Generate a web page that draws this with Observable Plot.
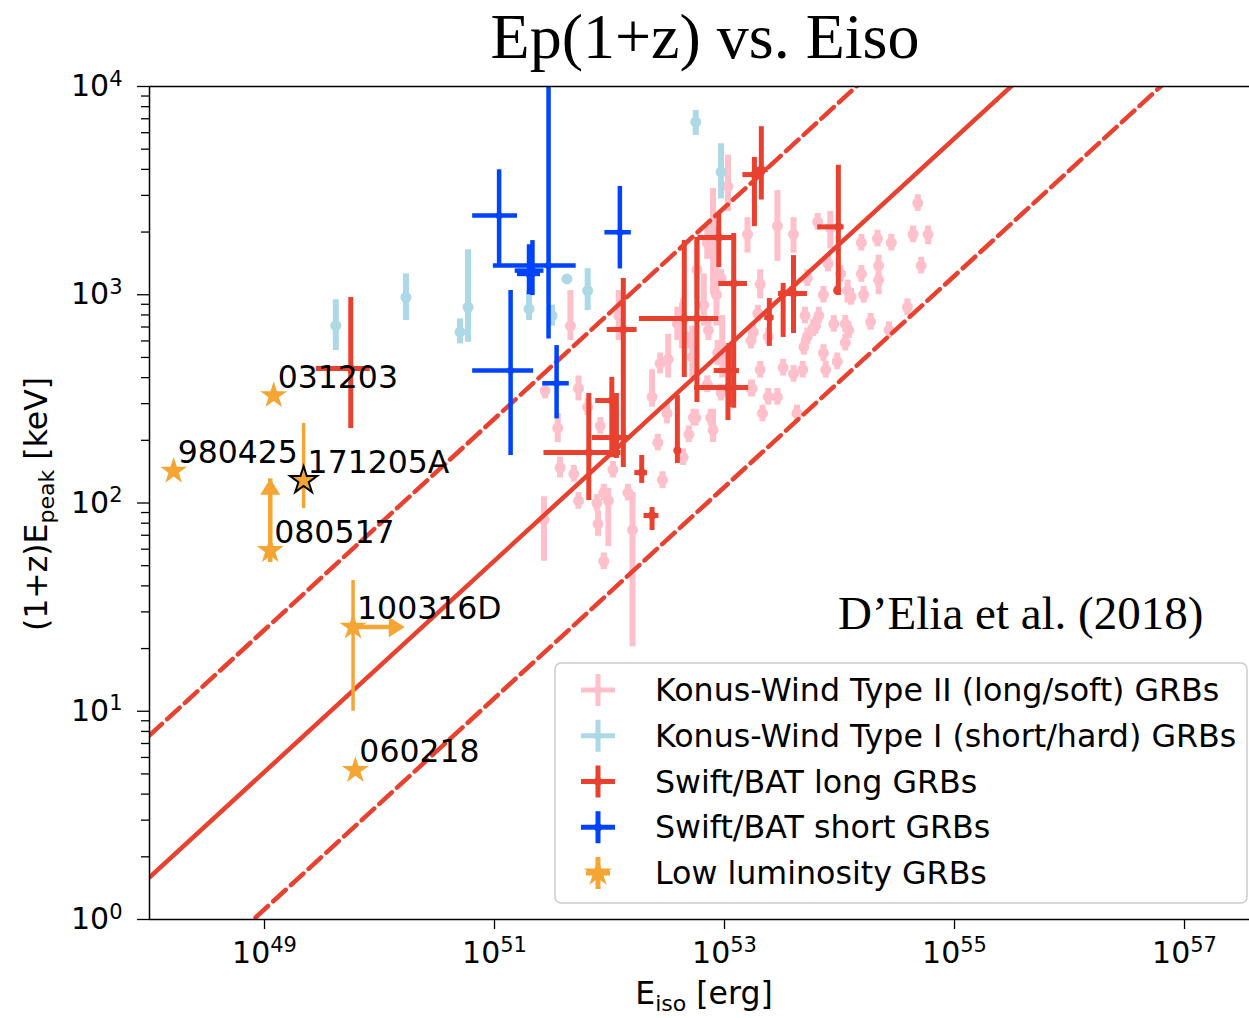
<!DOCTYPE html>
<html>
<head>
<meta charset="utf-8">
<script src="https://cdn.jsdelivr.net/npm/d3@7"></script>
<script src="https://cdn.jsdelivr.net/npm/@observablehq/plot@0.6"></script>
<style>
  body { margin: 0; background: #fff; }
  #chart svg { display: block; }
</style>
</head>
<body>
<div id="chart"></div>
<script>
// ---- Konus-Wind Type II (long/soft): [log10 Eiso, log10 Ep(1+z), log10 Ep low, log10 Ep high]
const kwLong = [
  [51.66,2.85,2.78,3.02],[51.73,2.55,2.49,2.61],[51.55,2.36,2.29,2.43],[51.57,2.17,2.12,2.22],
  [51.43,1.92,1.72,2.03],[51.69,2.14,2.10,2.18],[51.90,1.90,1.84,1.96],[51.95,2.05,2.01,2.09],
  [51.99,2.01,1.79,2.07],[52.03,2.16,2.12,2.20],[51.81,2.46,2.42,2.50],[51.92,2.37,2.33,2.41],
  [52.20,1.87,1.31,2.05],[52.42,2.29,2.25,2.33],[52.46,2.11,2.07,2.15],[52.69,2.33,2.29,2.37],
  [52.75,2.41,2.37,2.45],[52.64,2.22,2.18,2.26],[52.37,2.51,2.46,2.64],[52.51,2.69,2.60,2.81],
  [52.90,2.35,2.29,2.45],[52.97,2.53,2.49,2.57],[53.24,2.55,2.51,2.59],[53.38,2.51,2.47,2.55],
  [53.33,2.43,2.39,2.47],[53.51,2.65,2.61,2.69],[53.60,2.62,2.58,2.66],[53.63,2.43,2.39,2.47],
  [53.86,2.72,2.68,2.76],[53.88,2.64,2.60,2.68],[53.98,2.68,2.64,2.72],[53.70,2.90,2.86,2.94],
  [53.79,2.85,2.81,2.89],[54.27,2.87,2.83,2.91],[54.43,2.83,2.79,2.87],[52.88,2.41,2.37,2.45],
  [52.85,2.57,2.53,2.61],[52.50,2.43,2.38,2.48],[51.73,2.01,1.97,2.05],[52.16,2.05,2.01,2.09],
  [52.08,2.90,2.78,3.02],[52.59,2.86,2.78,2.94],[52.90,3.31,3.00,3.51],[53.03,3.52,3.40,3.67],
  [53.20,3.29,3.20,3.37],[53.46,3.33,3.16,3.50],[53.60,3.29,3.20,3.37],[53.81,3.35,3.31,3.39],
  [53.92,3.32,3.22,3.40],[54.19,3.25,3.21,3.29],[54.33,3.27,3.23,3.31],[54.45,3.25,3.21,3.29],
  [54.64,3.29,3.25,3.33],[54.77,3.29,3.24,3.33],[54.68,3.44,3.40,3.48],[54.71,3.14,3.10,3.18],
  [54.19,3.10,3.06,3.14],[54.34,3.14,3.00,3.19],[54.34,3.07,3.04,3.10],[54.59,2.94,2.90,2.98],
  [54.07,3.02,2.96,3.07],[54.05,2.86,2.82,2.90],[54.05,2.77,2.73,2.81],[53.95,2.86,2.82,2.90],
  [53.82,2.90,2.86,2.94],[53.72,3.08,3.04,3.12],[53.68,2.64,2.60,2.68],[53.90,3.15,3.11,3.19],
  [54.10,2.99,2.95,3.03],[54.08,2.83,2.79,2.87],[53.31,3.05,2.98,3.12],[53.29,2.91,2.87,2.95],
  [53.38,2.80,2.76,2.84],[53.23,2.78,2.74,2.82],[53.23,2.55,2.51,2.59],[52.73,2.41,2.37,2.45],
  [53.77,2.84,2.80,2.88],[53.86,3.00,2.96,3.04],[52.64,2.88,2.78,2.98],[52.76,3.12,2.98,3.26],
  [52.85,3.25,3.17,3.33],[52.97,3.08,3.04,3.12],[54.01,3.10,3.06,3.14],[51.44,2.54,2.50,2.58],
  [51.95,1.72,1.68,1.76],[52.63,2.82,2.74,2.96],[52.44,2.67,2.62,2.72],[52.86,2.83,2.78,2.88],
  [53.31,2.64,2.60,2.68],[53.72,2.80,2.76,2.84],[53.46,2.51,2.47,2.55],[54.21,3.00,2.96,3.04],
  [51.89,2.00,1.96,2.04],[52.70,2.78,2.74,2.82],[53.25,2.82,2.78,2.86],[52.94,2.72,2.66,2.78],
  [53.69,2.75,2.71,2.79],[52.93,3.00,2.85,3.15],[52.98,2.75,2.60,2.90],[52.82,2.95,2.85,3.10],
  [52.72,2.70,2.60,2.85]
];

// ---- Konus-Wind Type I (short/hard): [log10 Eiso, log10 Ep, log10 Ep low, log10 Ep high]
const kwShort = [
  [49.62,2.852,2.732,2.976],[50.23,2.988,2.876,3.100],[50.70,2.820,2.764,2.884],
  [50.77,2.940,2.772,3.216],[51.30,2.932,2.876,3.020],[51.50,2.900,2.850,2.950],
  [51.63,3.076,3.060,3.090],[51.81,3.020,2.924,3.125],[52.75,3.829,3.765,3.885],
  [52.97,3.589,3.460,3.725]
];

// ---- Swift/BAT long: [log10 Eiso, low, high, log10 Ep, low, high]
const batLong = [
  [49.75,49.45,49.92,2.646,2.358,2.987],[51.82,51.43,52.10,2.242,2.012,2.526],
  [52.02,51.88,52.07,2.492,2.218,2.603],[52.06,51.85,52.18,2.315,2.214,2.526],
  [52.12,51.98,52.24,2.833,2.170,3.078],[52.28,52.22,52.33,2.146,2.094,2.228],
  [52.37,52.30,52.43,1.940,1.868,1.978],[52.59,52.58,52.60,2.252,2.190,2.516],
  [52.65,52.26,52.95,2.886,2.603,3.261],[52.76,52.38,52.85,2.886,2.483,3.275],
  [52.95,52.77,53.10,3.275,3.131,3.390],[53.08,52.95,53.20,3.054,2.455,3.294],
  [53.04,52.91,53.13,2.636,2.459,2.766],[53.03,52.74,53.21,2.555,2.396,2.732],
  [53.26,53.16,53.32,3.577,3.327,3.659],[53.32,53.25,53.38,3.601,3.455,3.807],
  [53.39,53.35,53.43,2.891,2.752,2.982],[53.51,53.47,53.72,3.006,2.795,3.054],
  [53.60,53.49,53.72,3.006,2.814,3.188],[53.99,53.81,54.04,3.326,2.996,3.622],
  [53.98,53.97,53.99,3.020,3.000,3.040]
];

// ---- Swift/BAT short: [log10 Eiso, low, high, log10 Ep, low, high]
const batShort = [
  [51.04,50.81,51.20,3.381,3.140,3.600],[51.47,50.99,51.71,3.140,2.788,4.300],
  [51.33,51.18,51.43,3.116,2.996,3.260],[51.30,51.20,51.40,3.100,3.000,3.240],
  [52.09,51.96,52.19,3.300,3.124,3.520],[51.14,50.81,51.34,2.636,2.228,3.020],
  [51.54,51.42,51.65,2.575,2.404,2.756]
];

// ---- Low-luminosity GRBs
const llNames   = ["980425", "031203", "171205A", "080517", "100316D", "060218"];
const llLogE    = [48.21, 49.08, 49.34, 49.05, 49.77, 49.79];
const llLogEp   = [2.153, 2.516, 2.108, 1.772, 1.404, 0.716];
const llLogEpLo = [null, null, 1.973, null, 1.000, null];
const llLogEpHi = [null, null, 2.382, null, 1.628, null];
const llOutlined = [false, false, true, false, false, false];
// limits: 080517 has a lower limit on Ep, 100316D a lower limit on Eiso
const llUpLimitTo    = [null, null, null, 2.116, null, null];
const llRightLimitTo = [null, null, null, null, 50.22, null];

// ---- Amati relation: log Ep = norm + slope * (log Eiso - 48)
const amatiSlope = 0.507;
const amatiNorm  = [0.884, 0.202, -0.458];
const amatiDash  = [true, false, true];

// ---- legend and tick labels
const legendLabels = [
  "Konus-Wind Type II (long/soft) GRBs",
  "Konus-Wind Type I (short/hard) GRBs",
  "Swift/BAT long GRBs",
  "Swift/BAT short GRBs",
  "Low luminosity GRBs"
];
const xTicks = [1e49, 1e51, 1e53, 1e55, 1e57];
const yTicks = [1, 10, 100, 1e3, 1e4];

const C = {pink: "#ffc0cb", lightblue: "#add8e6", red: "#e8412f", blue: "#0043ff", orange: "#f5a533"};
const legendColors = [C.pink, C.lightblue, C.red, C.blue, C.orange];

const p10 = v => Math.pow(10, v);
const yMinor = [];
for (let d = 0; d < 4; d++) for (let k = 2; k <= 9; k++) yMinor.push(k * p10(d));

const kwLongRows  = kwLong.map(d => ({E: p10(d[0]), Ep: p10(d[1]), lo: p10(d[2]), hi: p10(d[3])}));
const kwShortRows = kwShort.map(d => ({E: p10(d[0]), Ep: p10(d[1]), lo: p10(d[2]), hi: p10(d[3])}));
const toBat = d => ({E: p10(d[0]), Elo: p10(d[1]), Ehi: p10(d[2]), Ep: p10(d[3]), lo: p10(d[4]), hi: p10(d[5])});
const batLongRows  = batLong.map(toBat);
const batShortRows = batShort.map(toBat);
const llRows = llNames.map((name, i) => ({
  name, E: p10(llLogE[i]), Ep: p10(llLogEp[i]),
  lo: llLogEpLo[i] == null ? null : p10(llLogEpLo[i]),
  hi: llLogEpHi[i] == null ? null : p10(llLogEpHi[i]),
  outlined: llOutlined[i],
  upTo: llUpLimitTo[i] == null ? null : p10(llUpLimitTo[i]),
  rightTo: llRightLimitTo[i] == null ? null : p10(llRightLimitTo[i])
}));
const xMax = p10(57.565);
const amatiRows = amatiNorm.flatMap((n, i) => [48, 57.565].map(lx => ({
  line: i, dash: amatiDash[i], E: p10(lx), Ep: p10(n + amatiSlope * (lx - 48))
})));

// filled arrow head with its tip at the anchor point, pointing up
const arrowHead = {
  draw(ctx, size) {
    const w = Math.sqrt(size);
    ctx.moveTo(0, 0);
    ctx.lineTo(-w / 2, w * 0.8);
    ctx.lineTo(w / 2, w * 0.8);
    ctx.closePath();
  }
};

const pow = d => "10^" + Math.round(Math.log10(d));
const FS = 31.5;

const chart = Plot.plot({
  width: 1249,
  height: 1018,
  marginLeft: 149,
  marginRight: 0,
  marginTop: 86,
  marginBottom: 99,
  x: {type: "log", domain: [1e48, xMax]},
  y: {type: "log", domain: [1, 1e4]},
  style: {fontFamily: "DejaVu Sans", color: "#000", background: "#fff", overflow: "visible"},
  marks: [
    // Konus-Wind long
    Plot.ruleX(kwLongRows, {x: "E", y1: "lo", y2: "hi", stroke: C.pink, strokeWidth: 6, clip: true}),
    Plot.dot(kwLongRows, {x: "E", y: "Ep", r: 5.5, fill: C.pink, clip: true}),
    // Konus-Wind short
    Plot.ruleX(kwShortRows, {x: "E", y1: "lo", y2: "hi", stroke: C.lightblue, strokeWidth: 6, clip: true}),
    Plot.dot(kwShortRows, {x: "E", y: "Ep", r: 5.5, fill: C.lightblue, clip: true}),
    // Amati relation and its scatter band
    Plot.line(amatiRows.filter(d => !d.dash), {x: "E", y: "Ep", z: "line", stroke: C.red, strokeWidth: 4.5, clip: true}),
    Plot.line(amatiRows.filter(d => d.dash), {x: "E", y: "Ep", z: "line", stroke: C.red, strokeWidth: 4.5, strokeDasharray: "17,7", clip: true}),
    // Swift/BAT long
    Plot.ruleX(batLongRows, {x: "E", y1: "lo", y2: "hi", stroke: C.red, strokeWidth: 5, clip: true}),
    Plot.ruleY(batLongRows, {y: "Ep", x1: "Elo", x2: "Ehi", stroke: C.red, strokeWidth: 5, clip: true}),
    Plot.dot(batLongRows, {x: "E", y: "Ep", r: 4, fill: C.red, clip: true}),
    // Swift/BAT short
    Plot.ruleX(batShortRows, {x: "E", y1: "lo", y2: "hi", stroke: C.blue, strokeWidth: 4.5, clip: true}),
    Plot.ruleY(batShortRows, {y: "Ep", x1: "Elo", x2: "Ehi", stroke: C.blue, strokeWidth: 4.5, clip: true}),
    Plot.dot(batShortRows, {x: "E", y: "Ep", r: 3.5, fill: C.blue, clip: true}),
    // Low-luminosity GRBs
    Plot.ruleX(llRows.filter(d => d.lo != null), {x: "E", y1: "lo", y2: "hi", stroke: C.orange, strokeWidth: 3.5}),
    Plot.ruleX(llRows.filter(d => d.upTo != null), {x: "E", y1: "Ep", y2: "upTo", stroke: C.orange, strokeWidth: 4.5, insetTop: 12}),
    Plot.dot(llRows.filter(d => d.upTo != null), {x: "E", y: "upTo", symbol: arrowHead, r: 11.3, fill: C.orange}),
    Plot.ruleY(llRows.filter(d => d.rightTo != null), {y: "Ep", x1: "E", x2: "rightTo", stroke: C.orange, strokeWidth: 4.5, insetRight: 12}),
    Plot.dot(llRows.filter(d => d.rightTo != null), {x: "rightTo", y: "Ep", symbol: arrowHead, r: 11.3, rotate: 90, fill: C.orange}),
    Plot.dot(llRows, {x: "E", y: "Ep", symbol: "star", r: 8.5, fill: C.orange,
      stroke: d => d.outlined ? "#000" : "none", strokeWidth: 2}),
    Plot.text(llRows, {x: "E", y: "Ep", text: "name", dx: 4, dy: -18, textAnchor: "start", lineAnchor: "middle",
      fontSize: FS, fill: "#000"}),
    // axes
    Plot.axisX({ticks: xTicks, tickSize: 10, tickPadding: 12, tickFormat: pow, fontSize: 30, label: null, strokeWidth: 1.3}),
    Plot.axisY({ticks: yTicks, tickSize: 12, tickPadding: 15, tickFormat: pow, fontSize: 30, label: null, strokeWidth: 1.3}),
    Plot.axisY({ticks: yMinor, tickSize: 8, tickFormat: () => "", label: null, strokeWidth: 1.3}),
    Plot.ruleX([1e48], {stroke: "#000", strokeWidth: 1.5}),
    Plot.ruleY([1, 1e4], {stroke: "#000", strokeWidth: 1.5})
  ]
});

const svg = d3.select(chart);

// powers of ten as superscripts
svg.selectAll("text").each(function () {
  const m = /^10\^(\d+)$/.exec(this.textContent);
  if (!m) return;
  const t = d3.select(this);
  t.text("");
  t.append("tspan").text("10");
  t.append("tspan").attr("dy", "-0.5em").attr("font-size", "0.7em").text(m[1]);
});

// title
svg.append("text")
  .attr("x", 705).attr("y", 58)
  .attr("text-anchor", "middle")
  .attr("font-family", "Liberation Serif, Times New Roman, serif")
  .attr("font-size", 64)
  .text("Ep(1+z) vs. Eiso");

// axis labels
const yl = svg.append("text")
  .attr("transform", "translate(47,504) rotate(-90)")
  .attr("text-anchor", "middle")
  .attr("font-family", "DejaVu Sans").attr("font-size", FS);
yl.append("tspan").text("(1+z)E");
yl.append("tspan").attr("font-size", "0.7em").attr("dy", "0.3em").text("peak");
yl.append("tspan").attr("dy", "-0.21em").text(" [keV]");

const xl = svg.append("text")
  .attr("x", 704).attr("y", 1004)
  .attr("text-anchor", "middle")
  .attr("font-family", "DejaVu Sans").attr("font-size", FS);
xl.append("tspan").text("E");
xl.append("tspan").attr("font-size", "0.7em").attr("dy", "0.3em").text("iso");
xl.append("tspan").attr("dy", "-0.21em").text(" [erg]");

// reference
svg.append("text")
  .attr("x", 838).attr("y", 629)
  .attr("text-anchor", "start")
  .attr("font-family", "Liberation Serif, Times New Roman, serif")
  .attr("font-size", 47)
  .text("D\u2019Elia et al. (2018)");

// legend
const lg = svg.append("g");
lg.append("rect")
  .attr("x", 555).attr("y", 663).attr("width", 692).attr("height", 240).attr("rx", 6)
  .attr("fill", "#fff").attr("fill-opacity", 0.8)
  .attr("stroke", "#cccccc").attr("stroke-width", 1.5);
legendLabels.forEach((label, i) => {
  const cy = 690 + i * 45.75, cx = 598;
  const g = lg.append("g");
  const half = i === 4 ? 12 : 17;
  g.append("line").attr("x1", cx - half).attr("x2", cx + half).attr("y1", cy).attr("y2", cy)
    .attr("stroke", legendColors[i]).attr("stroke-width", 5);
  g.append("line").attr("x1", cx).attr("x2", cx).attr("y1", cy - 16).attr("y2", cy + 16)
    .attr("stroke", legendColors[i]).attr("stroke-width", 5);
  if (i === 4) {
    g.append("path").attr("d", d3.symbol(d3.symbolStar, 240)()).attr("transform", `translate(${cx},${cy})`)
      .attr("fill", legendColors[i]);
  } else {
    g.append("circle").attr("cx", cx).attr("cy", cy).attr("r", 4).attr("fill", legendColors[i]);
  }
  g.append("text").attr("x", 655).attr("y", cy).attr("dy", "0.35em")
    .attr("text-anchor", "start")
    .attr("font-family", "DejaVu Sans").attr("font-size", 31.7).text(label);
});

document.getElementById("chart").appendChild(chart);
</script>
</body>
</html>
